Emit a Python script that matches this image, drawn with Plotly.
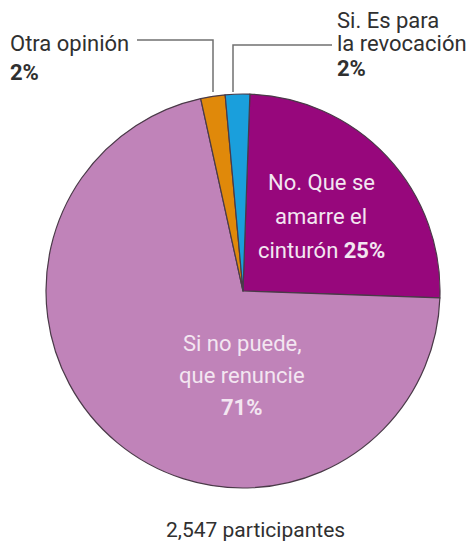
import plotly.graph_objects as go

labels = ["No. Que se amarre el cinturón", "Si no puede, que renuncie", "Otra opinión", "Si. Es para la revocación"]
values = [25, 71, 2, 2]
colors = ["#97077c", "#c083b9", "#e0890a", "#1a9fdc"]
total_label = "2,547 participantes"

W, H = 473, 549
FONT = "Roboto, Liberation Sans Narrow, sans-serif"

def px(x):
    return x / W

def py(y):
    return 1 - y / H

cx, cy, r = 243, 291, 197

fig = go.Figure(go.Pie(
    labels=labels,
    values=values,
    sort=False,
    direction="clockwise",
    rotation=2,
    marker=dict(colors=colors, line=dict(color="#4a3a48", width=1.2)),
    textinfo="none",
    hoverinfo="label+percent",
    domain=dict(x=[px(cx - r), px(cx + r)], y=[py(cy + r), py(cy - r)]),
    showlegend=False,
))

anns = []

def text(x, y, s, size=22, color="#303030", xanchor="left"):
    anns.append(dict(x=px(x), y=py(y), xref="paper", yref="paper", text=s,
                     showarrow=False, xanchor=xanchor, yanchor="middle",
                     font=dict(family=FONT, size=size, color=color)))

# outside labels
text(8, 44, "Otra opinión")
text(8, 72, "<b>2%</b>")
text(335, 20, "Si. Es para")
text(335, 44, "la revocación")
text(335, 68, "<b>2%</b>")

# inside labels
inner = "#f3e6f1"
text(321, 182, "No. Que se", color=inner, xanchor="center")
text(321, 216, "amarre el", color=inner, xanchor="center")
text(321, 250, "cinturón <b>25%</b>", color=inner, xanchor="center")

text(242, 343, "Si no puede,", color=inner, xanchor="center")
text(242, 375, "que renuncie", color=inner, xanchor="center")
text(242, 407, "<b>71%</b>", color=inner, xanchor="center")

text(255, 530, total_label, size=21, xanchor="center")

line = dict(color="#707070", width=1.5)
shapes = [
    dict(type="path", xref="paper", yref="paper",
         path=f"M {px(137)},{py(40)} L {px(213)},{py(40)} L {px(213)},{py(92)}", line=line),
    dict(type="path", xref="paper", yref="paper",
         path=f"M {px(332)},{py(45)} L {px(233)},{py(45)} L {px(233)},{py(92)}", line=line),
]

fig.update_layout(
    width=W, height=H,
    margin=dict(l=0, r=0, t=0, b=0),
    paper_bgcolor="white", plot_bgcolor="white",
    annotations=anns, shapes=shapes,
)

fig.write_html("out.html", config={"displayModeBar": False},
               post_script="document.body.style.margin='0';document.body.style.overflow='hidden';")
